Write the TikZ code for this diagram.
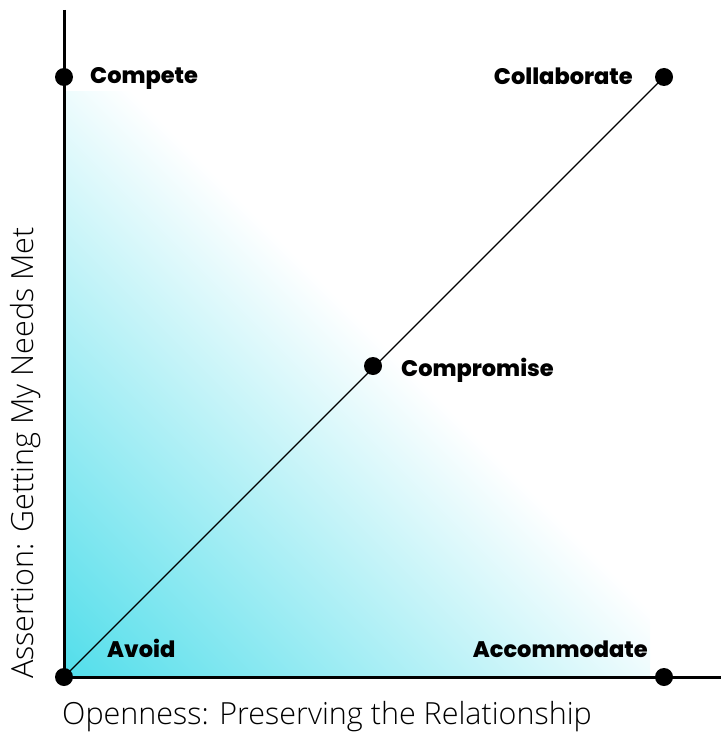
\documentclass[tikz,border=0pt]{standalone}
\usepackage{fontspec}
\newfontfamily\labfont{Poppins ExtraBold}
\newfontfamily\axisfont{Open Sans Light}
\definecolor{cy}{RGB}{78,221,234}
\begin{document}
\begin{tikzpicture}[x=1pt,y=-1pt,
  dot/.style={circle,fill=black,inner sep=0pt,minimum size=18pt},
  lab/.style={font=\labfont\fontsize{22.5}{26}\selectfont,inner sep=0pt},
  axislab/.style={font=\axisfont\fontsize{30.5}{36}\selectfont,inner sep=0pt}]
\useasboundingbox (0,0) rectangle (721,733);
% gradient
\begin{scope}
\clip (64,92) rectangle (650,677);
\shade[transform canvas={rotate around={45:(64,677)}},left color=cy,right color=white]
  (54,-300) rectangle (526,1600);
\end{scope}
% axes
\coordinate (ytop) at (64,10);
\coordinate (xend) at (721,677);
\node[dot] (avoid) at (64,677) {};
\node[dot] (compete) at (64,77) {};
\node[dot] (collab) at (664,77) {};
\node[dot] (compro) at (373,366) {};
\node[dot] (accom) at (664,677) {};
\draw[line width=3pt] (ytop) -- (avoid.center) -- (xend);
\draw[line width=1.2pt] (avoid.center) -- (collab.center);
% labels
\node[lab,anchor=base west] (tcompete) at (90,84) {Compete};
\node[lab,anchor=base east] (tcollab) at (633,85) {Collaborate};
\node[lab,anchor=base west] (tcompro) at (401,376) {Compromise};
\node[lab,anchor=base west] (tavoid) at (107,657) {Avoid};
\node[lab,anchor=base east] (taccom) at (648,657) {Accommodate};
\node[axislab,anchor=base west] (xlab) at (62,724) {Openness: Preserving the Relationship};
\node[axislab,anchor=west,rotate=90] (ylab) at (26,679) {Assertion: Getting My Needs Met};
\end{tikzpicture}
\end{document}
